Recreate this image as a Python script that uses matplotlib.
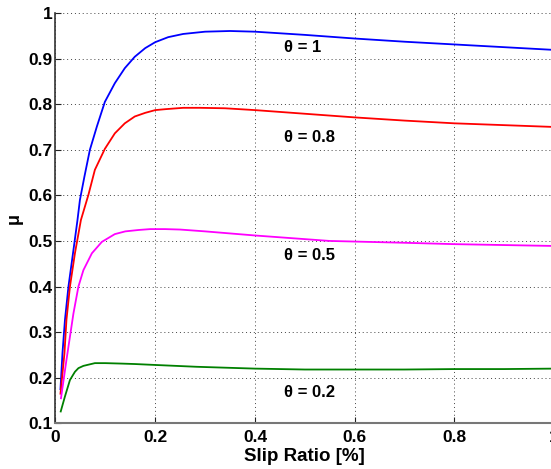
import matplotlib
matplotlib.use("Agg")
import matplotlib.pyplot as plt

plt.rcParams['font.family'] = ['Liberation Sans', 'DejaVu Sans']
plt.rcParams['font.weight'] = 'bold'

# friction coefficient vs slip ratio for several road conditions (theta)
x_1 = [0.010, 0.014, 0.019, 0.026, 0.036, 0.044, 0.049, 0.058, 0.069, 0.083, 0.099,
       0.119, 0.139, 0.159, 0.180, 0.200, 0.226, 0.256, 0.30, 0.35, 0.40, 0.50,
       0.60, 0.70, 0.80, 0.90, 1.0]
mu_1 = [0.175, 0.254, 0.327, 0.40, 0.48, 0.545, 0.59, 0.641, 0.70, 0.751, 0.805,
        0.846, 0.879, 0.904, 0.923, 0.936, 0.947, 0.954, 0.959, 0.9605, 0.959, 0.952,
        0.944, 0.937, 0.931, 0.925, 0.919]

x_08 = [0.010, 0.018, 0.022, 0.029, 0.039, 0.051, 0.066, 0.079, 0.099, 0.119, 0.139,
        0.159, 0.180, 0.200, 0.22, 0.256, 0.29, 0.34, 0.40, 0.50, 0.60, 0.70, 0.80,
        0.90, 1.0]
mu_08 = [0.165, 0.254, 0.327, 0.40, 0.473, 0.546, 0.601, 0.656, 0.702, 0.736, 0.758,
         0.773, 0.781, 0.787, 0.789, 0.792, 0.792, 0.791, 0.787, 0.779, 0.771, 0.764,
         0.758, 0.754, 0.750]

x_05 = [0.011, 0.022, 0.029, 0.036, 0.046, 0.056, 0.073, 0.093, 0.119, 0.14, 0.166,
        0.19, 0.22, 0.25, 0.30, 0.40, 0.55, 0.70, 0.80, 0.90, 1.0]
mu_05 = [0.155, 0.239, 0.29, 0.341, 0.40, 0.436, 0.473, 0.498, 0.515, 0.521, 0.524,
         0.526, 0.526, 0.525, 0.521, 0.512, 0.50, 0.496, 0.493, 0.491, 0.489]

x_02 = [0.0105, 0.019, 0.029, 0.039, 0.046, 0.056, 0.079, 0.10, 0.133, 0.16, 0.2,
        0.283, 0.4, 0.5, 0.6, 0.7, 0.8, 0.9, 1.0]
mu_02 = [0.126, 0.159, 0.195, 0.213, 0.221, 0.226, 0.232, 0.232, 0.231, 0.230, 0.228,
         0.224, 0.220, 0.218, 0.218, 0.218, 0.219, 0.219, 0.220]

labels = ['\u03b8 = 1', '\u03b8 = 0.8', '\u03b8 = 0.5', '\u03b8 = 0.2']
label_y = [0.924, 0.727, 0.467, 0.168]

fig = plt.figure(figsize=(5.51, 4.69), dpi=100)
ax = fig.add_axes([0.1007, 0.0974, 0.905, 0.8749])

ax.plot(x_1, mu_1, color='#0000ff', lw=1.3)
ax.plot(x_08, mu_08, color='#ff0000', lw=1.3)
ax.plot(x_05, mu_05, color='#ff00ff', lw=1.3)
ax.plot(x_02, mu_02, color='#008000', lw=1.3)

for lab, yy in zip(labels, label_y):
    ax.text(0.458, yy, lab, fontsize=12, fontweight='bold', ha='left', va='center')

ax.set_xlim(0, 1)
ax.set_ylim(0.1, 1)
ax.set_xticks([0, 0.2, 0.4, 0.6, 0.8, 1])
ax.set_xticklabels(['0', '0.2', '0.4', '0.6', '0.8', '1'])
ax.set_yticks([0.1, 0.2, 0.3, 0.4, 0.5, 0.6, 0.7, 0.8, 0.9, 1])
ax.set_yticklabels(['0.1', '0.2', '0.3', '0.4', '0.5', '0.6', '0.7', '0.8', '0.9', '1'])
ax.tick_params(direction='in', length=4, width=0.8, labelsize=12.5, colors='#222222')
ax.tick_params(axis='x', pad=5)
ax.tick_params(axis='y', pad=2)
for t in ax.get_xticklabels() + ax.get_yticklabels():
    t.set_fontweight('bold')
    t.set_color('black')

ax.grid(True, linestyle=(0, (1, 3)), color='#444444', lw=0.7)
ax.spines['top'].set_visible(False)
ax.spines['right'].set_visible(False)
ax.spines['left'].set_color('#333333')
ax.spines['bottom'].set_color('#777777')
ax.spines['left'].set_linewidth(1.2)
ax.spines['bottom'].set_linewidth(1.5)

ax.set_xlabel('Slip Ratio [%]', fontsize=13.5, fontweight='bold', labelpad=2)
ax.set_ylabel('\u03bc', fontsize=13, fontweight='bold', labelpad=4)

fig.savefig('out.png', dpi=100)
